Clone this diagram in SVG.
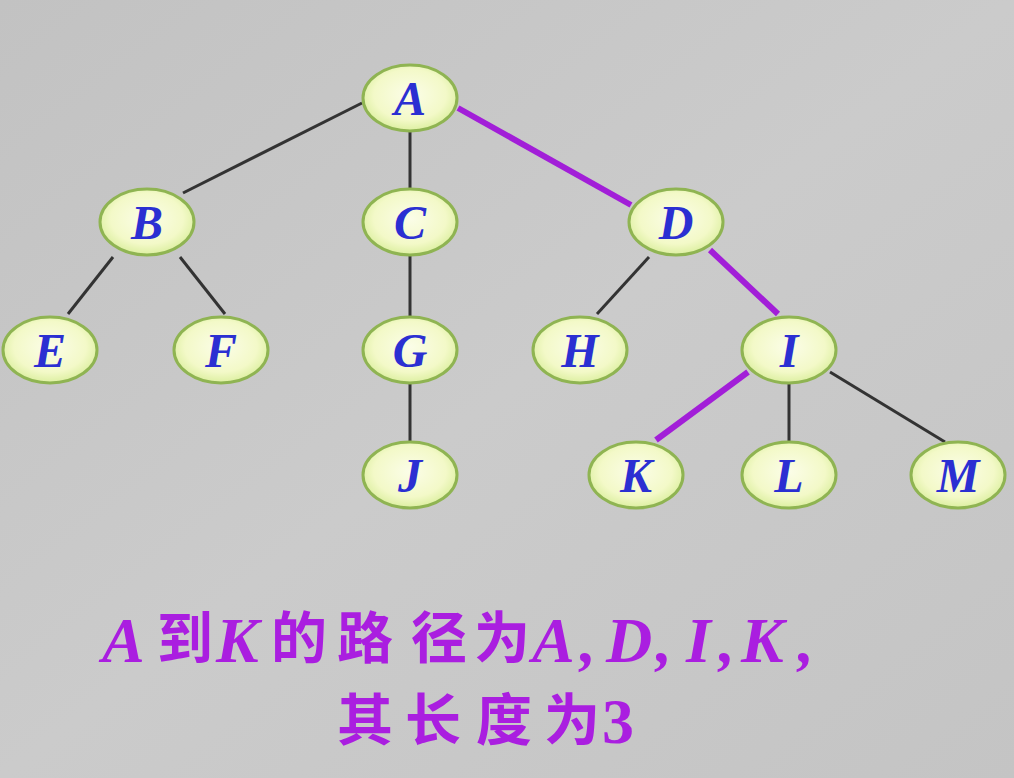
<svg xmlns="http://www.w3.org/2000/svg" width="1014" height="778" viewBox="0 0 1014 778">
<defs>
<linearGradient id="bg" x1="0" y1="0" x2="1" y2="1">
<stop offset="0" stop-color="#c2c2c2"/>
<stop offset="0.5" stop-color="#cbcbcb"/>
<stop offset="1" stop-color="#c4c4c4"/>
</linearGradient>
<radialGradient id="nf" cx="0.5" cy="0.45" r="0.55">
<stop offset="0" stop-color="#fbfde8"/>
<stop offset="0.7" stop-color="#f3f9c8"/>
<stop offset="1" stop-color="#dcefa0"/>
</radialGradient>
<style>
.n ellipse{fill:url(#nf);stroke:#8fb452;stroke-width:3}
.n text{font-family:"Liberation Serif",serif;font-style:italic;font-weight:bold;font-size:48px;fill:#2b2fd2;text-anchor:middle}
.e{stroke:#333;stroke-width:3;fill:none}
.p{stroke:#a21ed8;stroke-width:6;fill:none}
.cap{font-weight:bold;font-size:56px;fill:#aa1ee0}
.lat{font-family:"Liberation Serif",serif;font-style:italic;font-size:64px}
.cjk{font-family:"Noto Sans CJK SC",sans-serif}
</style>
</defs>
<rect width="1014" height="778" fill="url(#bg)"/>
<g id="connectors">
<line class="e" x1="362" y1="103" x2="183" y2="193"/>
<line class="e" x1="410" y1="131" x2="410" y2="189"/>
<line class="p" x1="458" y1="108" x2="631" y2="205"/>
<line class="e" x1="113" y1="257" x2="68" y2="314"/>
<line class="e" x1="180" y1="257" x2="225" y2="314"/>
<line class="e" x1="410" y1="255" x2="410" y2="317"/>
<line class="e" x1="410" y1="383" x2="410" y2="442"/>
<line class="e" x1="649" y1="257" x2="597" y2="314"/>
<line class="p" x1="710" y1="250" x2="778" y2="314"/>
<line class="p" x1="748" y1="372" x2="656" y2="440"/>
<line class="e" x1="789" y1="383" x2="789" y2="442"/>
<line class="e" x1="830" y1="372" x2="945" y2="442"/>
</g>
<g id="A" class="n"><ellipse cx="410" cy="98" rx="47" ry="33"/><text x="410" y="115">A</text></g>
<g id="B" class="n"><ellipse cx="147" cy="222" rx="47" ry="33"/><text x="147" y="239">B</text></g>
<g id="C" class="n"><ellipse cx="410" cy="222" rx="47" ry="33"/><text x="410" y="239">C</text></g>
<g id="D" class="n"><ellipse cx="676" cy="222" rx="47" ry="33"/><text x="676" y="239">D</text></g>
<g id="E" class="n"><ellipse cx="50" cy="350" rx="47" ry="33"/><text x="50" y="367">E</text></g>
<g id="F" class="n"><ellipse cx="221" cy="350" rx="47" ry="33"/><text x="221" y="367">F</text></g>
<g id="G" class="n"><ellipse cx="410" cy="350" rx="47" ry="33"/><text x="410" y="367">G</text></g>
<g id="H" class="n"><ellipse cx="580" cy="350" rx="47" ry="33"/><text x="580" y="367">H</text></g>
<g id="I" class="n"><ellipse cx="789" cy="350" rx="47" ry="33"/><text x="789" y="367">I</text></g>
<g id="J" class="n"><ellipse cx="410" cy="475" rx="47" ry="33"/><text x="410" y="492">J</text></g>
<g id="K" class="n"><ellipse cx="636" cy="475" rx="47" ry="33"/><text x="636" y="492">K</text></g>
<g id="L" class="n"><ellipse cx="789" cy="475" rx="47" ry="33"/><text x="789" y="492">L</text></g>
<g id="M" class="n"><ellipse cx="958" cy="475" rx="47" ry="33"/><text x="958" y="492">M</text></g>
<g id="caption">
<text class="cap" y="660"><tspan class="lat" x="102" y="662">A</tspan><tspan class="cjk" x="157" y="658">到</tspan><tspan class="lat" x="216" y="662">K</tspan><tspan class="cjk" x="271" y="658">的</tspan><tspan class="cjk" x="337" y="658">路</tspan><tspan class="cjk" x="411" y="658">径</tspan><tspan class="cjk" x="474" y="658">为</tspan><tspan class="lat" x="532" y="662">A</tspan><tspan class="lat" x="580" y="662">,</tspan><tspan class="lat" x="606" y="662">D</tspan><tspan class="lat" x="656" y="662">,</tspan><tspan class="lat" x="686" y="662">I</tspan><tspan class="lat" x="719" y="662">,</tspan><tspan class="lat" x="741" y="662">K</tspan><tspan class="lat" x="798" y="662">,</tspan></text>
<text class="cap" y="740"><tspan class="cjk" x="337">其</tspan><tspan class="cjk" x="405">长</tspan><tspan class="cjk" x="476">度</tspan><tspan class="cjk" x="544">为</tspan><tspan class="lat" x="602" y="743" style="font-style:normal;font-size:64px">3</tspan></text>
</g>
</svg>
